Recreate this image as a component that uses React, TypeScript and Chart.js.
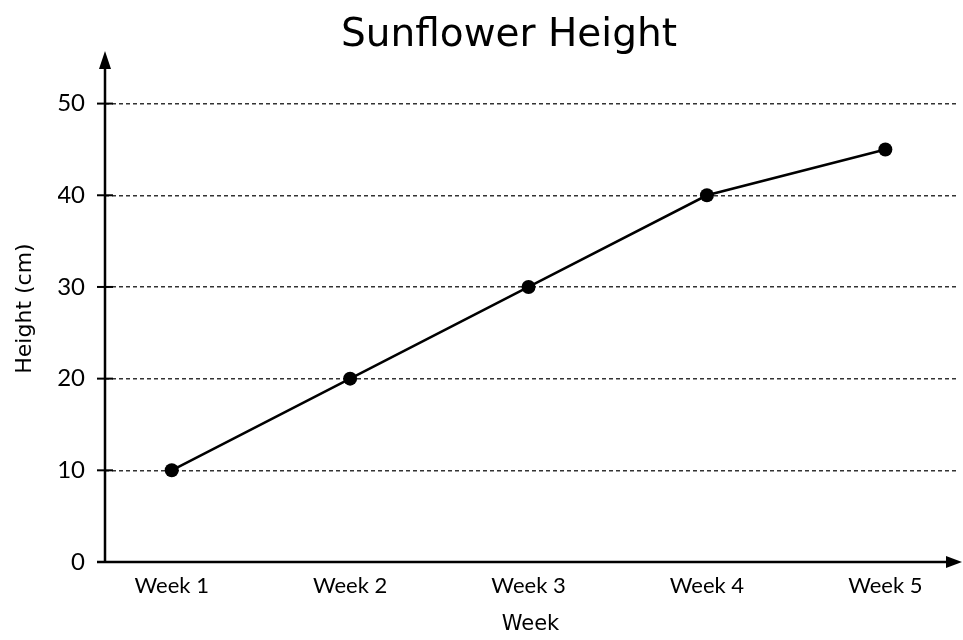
import React, { useEffect, useRef } from "react";
import { Chart, registerables } from "chart.js";

Chart.register(...registerables);

const weeks = ["Week 1", "Week 2", "Week 3", "Week 4", "Week 5"];
const heights = [10, 20, 30, 40, 45];
const yTicks = [0, 10, 20, 30, 40, 50];

const axisPlugin = {
  id: "arrowAxes",
  afterDraw(chart: any) {
    const { ctx, chartArea, scales } = chart;
    const y = scales.y;
    const x0 = chartArea.left;
    const yBase = y.getPixelForValue(0);
    const tip = chartArea.top - 4;
    ctx.save();
    ctx.strokeStyle = "#000";
    ctx.fillStyle = "#000";
    ctx.lineWidth = 2.5;
    // y axis
    ctx.beginPath();
    ctx.moveTo(x0, yBase + 1);
    ctx.lineTo(x0, tip + 12);
    ctx.stroke();
    ctx.beginPath();
    ctx.moveTo(x0, tip);
    ctx.lineTo(x0 - 6, tip + 18);
    ctx.lineTo(x0 + 6, tip + 18);
    ctx.closePath();
    ctx.fill();
    // x axis
    const right = chart.width - 1;
    ctx.beginPath();
    ctx.moveTo(x0 - 8, yBase);
    ctx.lineTo(right - 10, yBase);
    ctx.stroke();
    ctx.beginPath();
    ctx.moveTo(right, yBase);
    ctx.lineTo(right - 16, yBase - 6);
    ctx.lineTo(right - 16, yBase + 6);
    ctx.closePath();
    ctx.fill();
    // y tick marks crossing axis
    ctx.lineWidth = 2;
    for (const v of yTicks) {
      if (v === 0) continue;
      const py = y.getPixelForValue(v);
      ctx.beginPath();
      ctx.moveTo(x0 - 8, py);
      ctx.lineTo(x0 + 8, py);
      ctx.stroke();
    }
    ctx.restore();
  },
};

export default function App() {
  const ref = useRef<HTMLCanvasElement>(null);
  useEffect(() => {
    document.body.style.margin = "0";
    const chart = new Chart(ref.current!, {
      type: "line",
      data: {
        datasets: [
          {
            data: heights.map((h, i) => ({ x: i + 1, y: h })),
            borderColor: "#000",
            backgroundColor: "#000",
            borderWidth: 2.5,
            pointRadius: 7,
            pointBackgroundColor: "#000",
            pointBorderWidth: 0,
            tension: 0,
          },
        ],
      },
      options: {
        responsive: false,
        animation: false,
        layout: { padding: { left: 58, right: 3, top: 0, bottom: 0 } },
        plugins: {
          legend: { display: false },
          tooltip: { enabled: false },
          title: {
            display: true,
            text: "Sunflower Height",
            color: "#000",
            font: { family: "DejaVu Sans", size: 39, weight: "normal", lineHeight: 1 },
            padding: { top: 16, bottom: 0 },
          },
        },
        scales: {
          x: {
            type: "linear",
            min: 0.626,
            max: 5.396,
            afterFit(scale: any) {
              scale.height = 78;
            },
            afterBuildTicks(scale: any) {
              scale.ticks = weeks.map((_, i) => ({ value: i + 1 }));
            },
            grid: { display: false, drawTicks: false },
            border: { display: false },
            ticks: {
              color: "#000",
              padding: 11,
              font: { family: "Lato", size: 22 },
              autoSkip: false,
              maxRotation: 0,
              callback: (v: any) => weeks[Math.round(v) - 1] ?? "",
            },
            title: {
              display: true,
              text: "Week",
              color: "#000",
              font: { family: "DejaVu Sans", size: 21 },
              padding: { top: 0, bottom: 3 },
            },
          },
          y: {
            min: 0,
            max: 55.3,
            afterFit(scale: any) {
              scale.width = 47;
            },
            afterBuildTicks(scale: any) {
              scale.ticks = yTicks.map((v) => ({ value: v }));
            },
            grid: {
              drawTicks: false,
              color: (c: any) => (c.tick && c.tick.value === 0 ? "rgba(0,0,0,0)" : "#333"),
              lineWidth: 1.4,
            },
            border: { display: false, dash: [4, 3] },
            ticks: {
              color: "#000",
              padding: 20,
              font: { family: "Lato", size: 24 },
            },
            title: {
              display: true,
              text: "Height (cm)",
              color: "#000",
              font: { family: "DejaVu Sans", size: 22 },
              padding: { top: -46, bottom: 0 },
            },
          },
        },
      },
      plugins: [axisPlugin],
    } as any);
    return () => chart.destroy();
  }, []);
  return <canvas ref={ref} width={963} height={640} style={{ display: "block" }} />;
}
